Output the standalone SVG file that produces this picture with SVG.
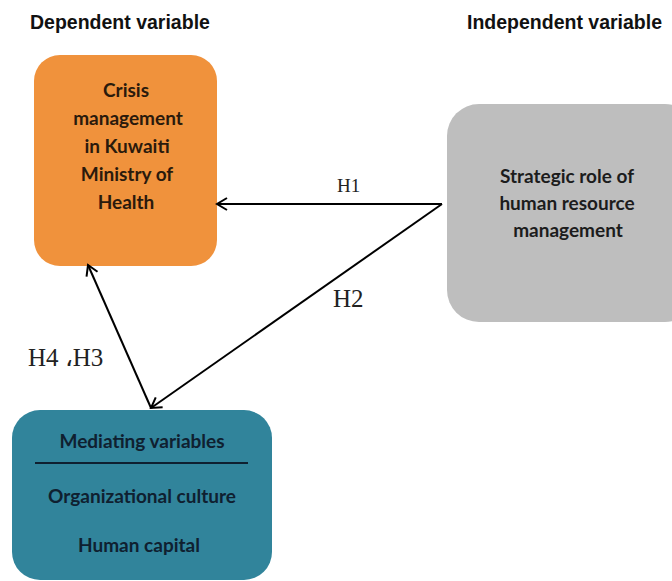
<svg xmlns="http://www.w3.org/2000/svg" width="672" height="581" viewBox="0 0 672 581">
<defs>
<style>
.hdr{font-family:"Liberation Sans",Arial,sans-serif;font-weight:bold;font-size:19.5px;fill:#111;}
.box{font-family:Lato,"Open Sans",sans-serif;font-weight:bold;font-size:19px;text-anchor:middle;}
.hl{font-family:"Liberation Serif","DejaVu Serif",serif;fill:#222;}
.conn{stroke:#000;stroke-width:2;fill:none;}
</style>
<marker id="arr" viewBox="-12 -8 14 16" refX="0" refY="0" markerWidth="14" markerHeight="16" markerUnits="userSpaceOnUse" orient="auto">
<path d="M-10,-6 L0,0 L-10,6" fill="none" stroke="#000" stroke-width="2"/>
</marker>
</defs>
<rect width="672" height="581" fill="#fff"/>
<text class="hdr" x="30" y="29">Dependent variable</text>
<text class="hdr" x="467" y="29">Independent variable</text>

<g id="crisis">
<rect x="34" y="55" width="183" height="211" rx="26" fill="#f0923c"/>
<g class="box" fill="#2a1a0c">
<text x="126" y="97">Crisis</text>
<text x="128" y="125">management</text>
<text x="127" y="153">in Kuwaiti</text>
<text x="127" y="181">Ministry of</text>
<text x="126" y="209">Health</text>
</g>
</g>

<g id="strategic">
<rect x="447" y="104" width="250" height="218" rx="32" fill="#bebebe"/>
<g class="box" fill="#1c1c1c">
<text x="567" y="183">Strategic role of</text>
<text x="567" y="210">human resource</text>
<text x="568" y="237">management</text>
</g>
</g>

<g id="mediating">
<rect x="12" y="410" width="260" height="170" rx="28" fill="#31849b"/>
<g class="box" fill="#0f2030">
<text x="142" y="448">Mediating variables</text>
<text x="142" y="503">Organizational culture</text>
<text x="139" y="552">Human capital</text>
</g>
<line x1="35" y1="463" x2="248" y2="463" stroke="#0f2030" stroke-width="2"/>
</g>

<g id="connectors">
<line class="conn" x1="442" y1="204" x2="217" y2="204" marker-end="url(#arr)"/>
<line class="conn" x1="442" y1="204" x2="151" y2="408" marker-end="url(#arr)"/>
<line class="conn" x1="151" y1="408" x2="88" y2="265" marker-end="url(#arr)"/>
<text class="hl" x="337" y="192" font-size="19">H1</text>
<text class="hl" x="333" y="307" font-size="25">H2</text>
<text class="hl" x="28" y="366" font-size="25">H4 ،H3</text>
</g>
</svg>
